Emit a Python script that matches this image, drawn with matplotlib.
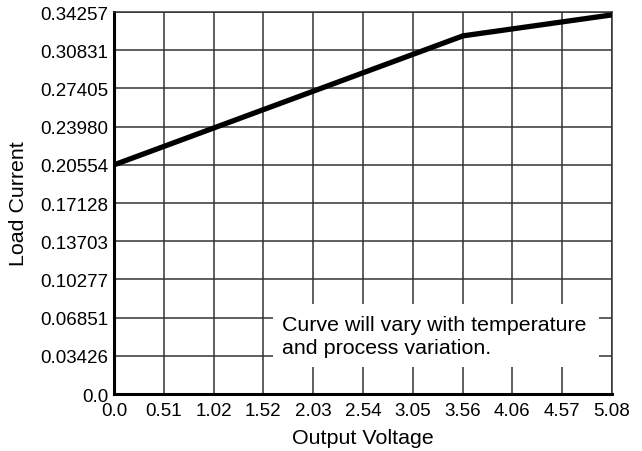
"""Load current versus output voltage curve."""
import matplotlib.pyplot as plt
from matplotlib.patches import Rectangle

plt.rcParams["font.family"] = ["Liberation Sans", "DejaVu Sans"]

voltage = [0.0, 3.56, 5.08]
current = [0.2055, 0.3212, 0.3400]

x_ticks = [0.0, 0.508, 1.016, 1.524, 2.032, 2.54, 3.048, 3.556, 4.064, 4.572, 5.08]
x_labels = ["0.0", "0.51", "1.02", "1.52", "2.03", "2.54", "3.05", "3.56", "4.06", "4.57", "5.08"]
y_ticks = [0.0, 0.034257, 0.068514, 0.102771, 0.137028, 0.171285,
           0.205542, 0.239799, 0.274056, 0.308313, 0.34257]
y_labels = ["0.0", "0.03426", "0.06851", "0.10277", "0.13703", "0.17128",
            "0.20554", "0.23980", "0.27405", "0.30831", "0.34257"]

note = "Curve will vary with temperature\nand process variation."


def main() -> None:
    fig = plt.figure(figsize=(6.42, 4.52), dpi=100)
    ax = fig.add_axes([0.1776, 0.1261, 0.7757, 0.8451])

    ax.plot(voltage, current, color="black", linewidth=3.8, solid_capstyle="butt", zorder=5)

    ax.set_xlim(0, 5.08)
    ax.set_ylim(0, 0.34257)
    ax.set_xticks(x_ticks)
    ax.set_xticklabels(x_labels)
    ax.set_yticks(y_ticks)
    ax.set_yticklabels(y_labels)
    ax.tick_params(length=0, labelsize=13.5)
    ax.tick_params(axis="y", pad=4)
    ax.tick_params(axis="x", pad=6)
    ax.grid(True, color="#333333", linewidth=1.1)
    ax.set_axisbelow(True)

    for side in ("top", "right"):
        ax.spines[side].set_linewidth(1.1)
        ax.spines[side].set_color("#333333")
    for side in ("left", "bottom"):
        ax.spines[side].set_linewidth(2.2)
        ax.spines[side].set_color("black")

    ax.add_patch(Rectangle((1.622, 0.0242), 3.325, 0.0565, facecolor="white",
                           edgecolor="none", zorder=3))
    ax.text(1.71, 0.0522, note, fontsize=15.4, ha="left", va="center",
            linespacing=1.3, zorder=4)

    ax.set_xlabel("Output Voltage", fontsize=15.4, labelpad=6)
    ax.set_ylabel("Load Current", fontsize=15.4, labelpad=9)

    fig.savefig("out.png", dpi=100)
    plt.close(fig)


if __name__ == "__main__":
    main()
